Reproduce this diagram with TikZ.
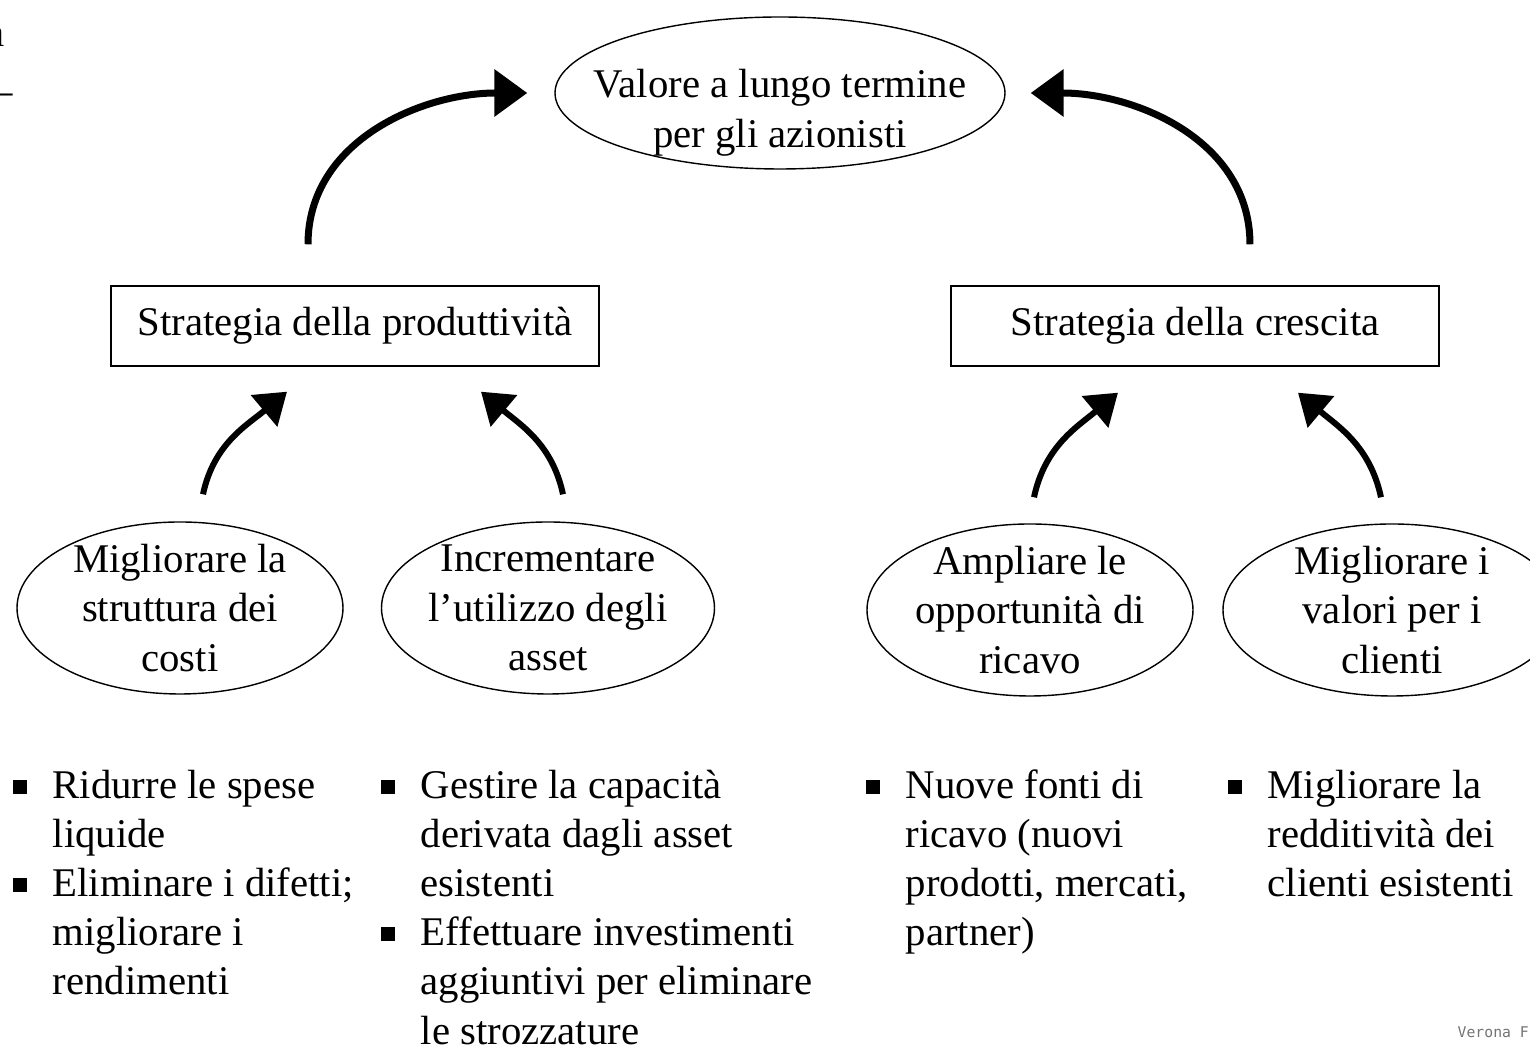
\documentclass[tikz,border=0pt]{standalone}
\usepackage{fontspec}
\setmainfont{Liberation Serif}
\newfontfamily\monofont{DejaVu Sans Mono}
\usepackage{tikz}
\usetikzlibrary{positioning,shapes.geometric,arrows.meta}

% quadratino per gli elenchi
\newcommand{\quadretto}{\hbox to 4mm{\rule[0.45mm]{1.4mm}{1.4mm}\hss}}

\begin{document}
\begin{tikzpicture}
  [
    x=0.1mm, y=0.1mm,
    every node/.style={font=\fontsize{11.6}{14.1}\selectfont, inner sep=0pt},
    oval/.style={draw, ellipse, line width=0.4pt, minimum width=32.6mm, minimum height=17.2mm},
    testo/.style={align=center},
    strat/.style={draw, line width=0.4pt, minimum width=48.8mm, minimum height=8mm},
    lista/.style={anchor=north west, font=\fontsize{11.6}{14}\selectfont},
    bigarrow/.style={line width=0.7mm, -{Triangle[length=3.3mm, width=4.6mm]}},
    smallarrow/.style={line width=0.6mm, -{Triangle[length=3mm, width=4mm]}}
  ]

  % Rahmen
  \useasboundingbox (0,0) rectangle (1530,1047);

  \node[anchor=base east] (frammA) at (5,1000) {a};
  \node[anchor=base east] (frammB) at (14,942) {–};

  % obiettivo
  \node[oval, minimum width=45mm, minimum height=15.2mm] (valore) at (780,954) {};
  \node[testo] (valoretxt) at ([yshift=-2mm]valore.center) {Valore a lungo termine\\per gli azionisti};

  % strategie
  \node[strat] (produtt) at (355,721) {Strategia della produttività};
  \node[strat] (crescita) at (1195,721) {Strategia della crescita};

  % leve
  \node[oval] (costi) at (180,439) {};
  \node[testo] (costitxt) at (costi) {Migliorare la\\struttura dei\\costi};
  \node[oval, minimum width=33.3mm] (asset) at (548,439) {};
  \node[testo] (assettxt) at (asset) {Incrementare\\l’utilizzo degli\\asset};
  \node[oval] (ricavo) at (1030,437) {};
  \node[testo] (ricavotxt) at (ricavo) {Ampliare le\\opportunità di\\ricavo};
  \node[oval, minimum width=33.8mm] (clienti) at (1392,437) {};
  \node[testo] (clientitxt) at (clienti) {Migliorare i\\valori per i\\clienti};

  \draw[bigarrow] ([shift={(-47,41)}]produtt.north) to[out=90,in=180] ([shift={(-27,0)}]valore.west);
  \draw[bigarrow] ([shift={(55,41)}]crescita.north) to[out=90,in=0] ([shift={(25,0)}]valore.east);
  \draw[smallarrow] ([shift={(23,27)}]costi.north) to[out=78,in=220] ([shift={(-68,-25)}]produtt.south);
  \draw[smallarrow] ([shift={(15,27)}]asset.north) to[out=102,in=-40] ([shift={(126,-25)}]produtt.south);
  \draw[smallarrow] ([shift={(4,26)}]ricavo.north) to[out=78,in=220] ([shift={(-77,-26)}]crescita.south);
  \draw[smallarrow] ([shift={(-11,26)}]clienti.north) to[out=102,in=-40] ([shift={(103,-26)}]crescita.south);

  % elenchi
  \node[lista] (lista1) at (12,284) {\begin{tabular}{@{}l@{}l@{}}
      \quadretto & Ridurre le spese\\
                 & liquide\\
      \quadretto & Eliminare i difetti;\\
                 & migliorare i\\
                 & rendimenti
    \end{tabular}};
  \node[lista] (lista2) at (380,284) {\begin{tabular}{@{}l@{}l@{}}
      \quadretto & Gestire la capacità\\
                 & derivata dagli asset\\
                 & esistenti\\
      \quadretto & Effettuare investimenti\\
                 & aggiuntivi per eliminare\\
                 & le strozzature
    \end{tabular}};
  \node[lista] (lista3) at (865,284) {\begin{tabular}{@{}l@{}l@{}}
      \quadretto & Nuove fonti di\\
                 & ricavo (nuovi\\
                 & prodotti, mercati,\\
                 & partner)
    \end{tabular}};
  \node[lista] (lista4) at (1227,284) {\begin{tabular}{@{}l@{}l@{}}
      \quadretto & Migliorare la\\
                 & redditività dei\\
                 & clienti esistenti
    \end{tabular}};

  \node[font=\monofont\fontsize{4.2}{5}\selectfont, text=black!55, anchor=base west] (fonte) at (1457,9) {Verona F};
\end{tikzpicture}
\end{document}
